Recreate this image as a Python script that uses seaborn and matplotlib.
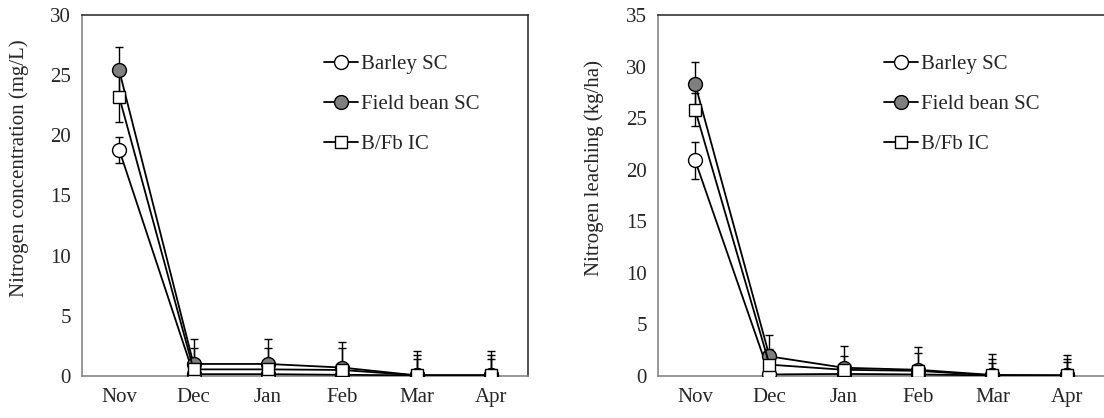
import matplotlib
matplotlib.use("Agg")
import matplotlib.pyplot as plt
import numpy as np
import pandas as pd
import seaborn as sns

# --- data ---
months = ["Nov", "Dec", "Jan", "Feb", "Mar", "Apr"]
series = ["Barley SC", "Field bean SC", "B/Fb IC"]

conc_barley = [18.8, 0.15, 0.15, 0.1, 0.05, 0.05]
conc_bean = [25.4, 1.0, 1.0, 0.7, 0.05, 0.05]
conc_ic = [23.2, 0.55, 0.55, 0.5, 0.05, 0.05]
conc_barley_err = [1.1, 0.3, 0.3, 0.3, 1.35, 1.35]
conc_bean_err = [1.9, 2.1, 2.1, 2.15, 2.05, 2.05]
conc_ic_err = [2.1, 1.75, 1.75, 1.8, 1.7, 1.7]

leach_barley = [20.9, 0.15, 0.2, 0.15, 0.05, 0.05]
leach_bean = [28.3, 1.9, 0.8, 0.6, 0.1, 0.05]
leach_ic = [25.8, 1.1, 0.6, 0.5, 0.05, 0.05]
leach_barley_err = [1.8, 0.3, 0.4, 0.3, 1.2, 1.35]
leach_bean_err = [2.1, 2.1, 2.1, 2.2, 2.0, 1.95]
leach_ic_err = [1.6, 1.5, 1.3, 1.7, 1.55, 1.6]

styles = {
    "Barley SC": dict(marker="o", markerfacecolor="white", markersize=10),
    "Field bean SC": dict(marker="o", markerfacecolor="#7f7f7f", markersize=10),
    "B/Fb IC": dict(marker="s", markerfacecolor="white", markersize=8.5),
}

sns.set_theme(style="white")
plt.rcParams["font.family"] = ["Liberation Serif", "DejaVu Serif"]

fig = plt.figure(figsize=(11.04, 4.18), dpi=100)
ax1 = fig.add_axes([0.0743, 0.1005, 0.404, 0.8636])
ax2 = fig.add_axes([0.596, 0.1005, 0.404, 0.8636])


def draw(ax, vals, errs, ylabel, ymax, leg_x):
    for name, v, e in zip(series, vals, errs):
        ax.errorbar(months, v, yerr=e, fmt="none", ecolor="black",
                    elinewidth=1.0, capsize=3.2, capthick=1.0, zorder=2)
    for name, v in zip(series, vals):
        df = pd.DataFrame({"month": months, "value": v})
        sns.lineplot(data=df, x="month", y="value", ax=ax, color="black",
                     linewidth=1.3, markeredgecolor="black", markeredgewidth=1.0,
                     label=name, sort=False, zorder=3, **styles[name])
    ax.set_xlim(-0.5, 5.5)
    ax.set_ylim(0, ymax)
    ax.set_yticks(np.arange(0, ymax + 1, 5))
    ax.set_xticks(np.arange(-0.5, 6, 1), minor=True)
    ax.tick_params(axis="x", which="major", length=0, pad=9, labelsize=15)
    ax.tick_params(axis="x", which="minor", length=4, width=1, color="#868686",
                   direction="out")
    ax.tick_params(axis="y", length=4, width=1, color="#868686", direction="out",
                   labelsize=15, pad=4)
    ax.set_xlabel("")
    ax.set_ylabel(ylabel, fontsize=15)
    ax.yaxis.set_label_coords(-0.12, 0.576)
    for side in ["left", "bottom"]:
        ax.spines[side].set_color("#868686")
        ax.spines[side].set_linewidth(1.2)
    for side in ["top", "right"]:
        ax.spines[side].set_color("#333333")
        ax.spines[side].set_linewidth(1.2)
    ax.legend(loc="upper left", bbox_to_anchor=(leg_x, 0.89), frameon=False,
              fontsize=15, handlelength=1.65, handletextpad=0.12,
              labelspacing=0.98, borderpad=0, borderaxespad=0)


draw(ax1, [conc_barley, conc_bean, conc_ic],
     [conc_barley_err, conc_bean_err, conc_ic_err],
     "Nitrogen concentration (mg/L)", 30, 0.542)
draw(ax2, [leach_barley, leach_bean, leach_ic],
     [leach_barley_err, leach_bean_err, leach_ic_err],
     "Nitrogen leaching (kg/ha)", 35, 0.506)
ax2.spines["right"].set_visible(False)

fig.savefig("out.png", dpi=100)
